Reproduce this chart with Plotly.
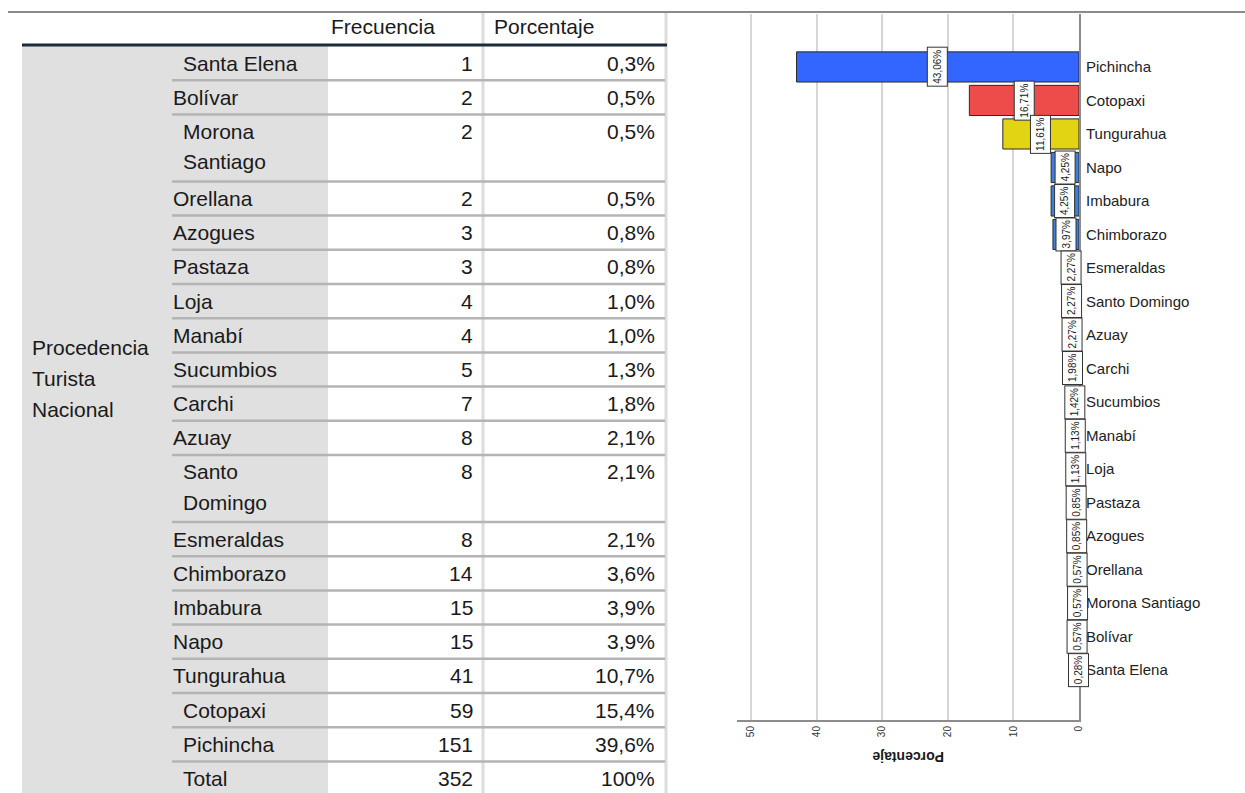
import plotly.graph_objects as go

# ── Data ───────────────────────────────────────────────────────────────────────

# table (left)
tabla_procedencia = ["Santa Elena", "Bolívar", "Morona Santiago", "Orellana", "Azogues",
                     "Pastaza", "Loja", "Manabí", "Sucumbios", "Carchi", "Azuay",
                     "Santo Domingo", "Esmeraldas", "Chimborazo", "Imbabura", "Napo",
                     "Tungurahua", "Cotopaxi", "Pichincha", "Total"]
tabla_frecuencia = [1, 2, 2, 2, 3, 3, 4, 4, 5, 7, 8, 8, 8, 14, 15, 15, 41, 59, 151, 352]
tabla_porcentaje = ["0,3%", "0,5%", "0,5%", "0,5%", "0,8%", "0,8%", "1,0%", "1,0%",
                    "1,3%", "1,8%", "2,1%", "2,1%", "2,1%", "3,6%", "3,9%", "3,9%",
                    "10,7%", "15,4%", "39,6%", "100%"]
tabla_columnas = ["Frecuencia", "Porcentaje"]
tabla_grupo = ["Procedencia", "Turista", "Nacional"]

# bar chart (right)
grafico_procedencia = ["Pichincha", "Cotopaxi", "Tungurahua", "Napo", "Imbabura",
                       "Chimborazo", "Esmeraldas", "Santo Domingo", "Azuay", "Carchi",
                       "Sucumbios", "Manabí", "Loja", "Pastaza", "Azogues", "Orellana",
                       "Morona Santiago", "Bolívar", "Santa Elena"]
grafico_porcentaje = [43.06, 16.71, 11.61, 4.25, 4.25, 3.97, 2.27, 2.27, 2.27, 1.98,
                      1.42, 1.13, 1.13, 0.85, 0.85, 0.57, 0.57, 0.57, 0.28]
grafico_eje = "Porcentaje"

# ── Style ──────────────────────────────────────────────────────────────────────

W, H = 1245, 793
FONT = "Liberation Sans, Arial, sans-serif"
TXT = "#1a1a1a"
_COLORS = ["#3366ff", "#ee4b4b", "#e2d412"] + ["#3d7fd9"] * 16
WRAP = {"Morona Santiago", "Santo Domingo"}
INDENT = {"Santa Elena", "Morona Santiago", "Santo Domingo", "Cotopaxi", "Pichincha", "Total"}


def px(x):
    return x / W


def py(y):
    return 1 - y / H


def hline(y, x0, x1, color, width):
    return dict(type="line", xref="paper", yref="paper", x0=px(x0), x1=px(x1),
                y0=py(y), y1=py(y), line=dict(color=color, width=width), layer="above")


def vline(x, y0, y1, color, width):
    return dict(type="line", xref="paper", yref="paper", x0=px(x), x1=px(x),
                y0=py(y0), y1=py(y1), line=dict(color=color, width=width), layer="above")


def label(x, y, text, anchor="left", size=21):
    return dict(xref="paper", yref="paper", x=px(x), y=py(y), text=text,
                xanchor=anchor, yanchor="middle", showarrow=False,
                font=dict(family=FONT, size=size, color=TXT))


# ── Table ──────────────────────────────────────────────────────────────────────

shapes = [
    dict(type="rect", xref="paper", yref="paper", x0=px(22), x1=px(328),
         y0=py(46), y1=py(H), fillcolor="#e0e0e0", line=dict(width=0), layer="below"),
    hline(12, 8, W, "#8a8a8a", 2),
    vline(483, 13, H, "#dcdcdc", 3),
    vline(666, 13, H, "#dcdcdc", 3),
]
annotations = [
    label(329, 27, tabla_columnas[0]),
    label(492, 27, tabla_columnas[1]),
]
for k, t in enumerate(tabla_grupo):
    annotations.append(label(30, 347 + k * 31, t))

y = 46
for name, f, p in zip(tabla_procedencia, tabla_frecuencia, tabla_porcentaje):
    xl = 181 if name in INDENT else 171
    if name in WRAP:
        for k, part in enumerate(name.split(" ")):
            annotations.append(label(xl, y + 17 + k * 30, part))
        h = 67
    else:
        annotations.append(label(xl, y + 17, name))
        h = 34.2
    annotations.append(label(475, y + 17, str(f), "right"))
    annotations.append(label(657, y + 17, p, "right"))
    y += h
    shapes.append(hline(y, 172, 665, "#b4b4b4", 2.5))

shapes.append(hline(45, 22, 667, "#1c2b39", 3))

# ── Bar chart ──────────────────────────────────────────────────────────────────

fig = go.Figure(go.Bar(
    x=grafico_porcentaje, y=grafico_procedencia, orientation="h",
    marker=dict(color=_COLORS, line=dict(color="#2a2a2a", width=1)),
    width=0.9, hoverinfo="x+y",
))

for name, v in zip(grafico_procedencia, grafico_porcentaje):
    annotations.append(dict(
        x=v / 2, y=name, xref="x", yref="y", showarrow=False,
        text=f"{v:.2f}%".replace(".", ","), textangle=-90, height=15,
        font=dict(family=FONT, size=10, color=TXT),
        bgcolor="white", bordercolor="#333333", borderwidth=1, borderpad=2,
    ))

annotations.append(dict(
    xref="paper", yref="paper", x=px(908), y=py(757), text=f"<b>{grafico_eje}</b>",
    textangle=180, showarrow=False, xanchor="center", yanchor="middle",
    font=dict(family=FONT, size=14, color=TXT),
))

fig.update_layout(
    width=W, height=H, autosize=False,
    paper_bgcolor="white", plot_bgcolor="white",
    margin=dict(l=0, r=0, t=0, b=0),
    showlegend=False, bargap=0.1,
    shapes=shapes, annotations=annotations,
    xaxis=dict(
        domain=[px(737), px(1079)], range=[52.13, 0], automargin=False,
        tickvals=[0, 10, 20, 30, 40, 50], tickangle=-90,
        showgrid=True, gridcolor="#d6d6d6", gridwidth=2, zeroline=False,
        showline=True, linecolor="#8c8c8c", linewidth=2,
        ticks="", tickfont=dict(family=FONT, size=10, color="#333333"),
    ),
    yaxis=dict(
        domain=[py(720), py(14)], side="right", automargin=False,
        categoryorder="array", categoryarray=grafico_procedencia,
        range=[19.49, -1.58], showgrid=False, zeroline=False,
        showline=True, linecolor="#8c8c8c", linewidth=2,
        ticks="", ticklabelstandoff=2,
        tickfont=dict(family=FONT, size=15, color="#222222"),
    ),
)

fig.write_html("out.html", config={"displayModeBar": False},
               post_script="document.body.style.margin='0';")
